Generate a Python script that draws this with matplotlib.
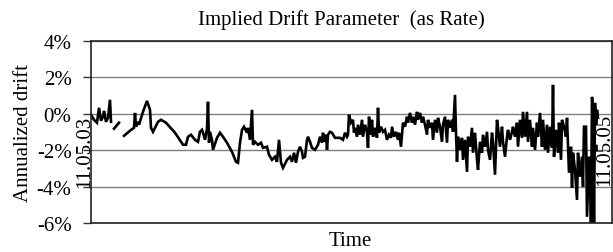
import numpy as np
import matplotlib
matplotlib.use("Agg")
import matplotlib.pyplot as plt

title = "Implied Drift Parameter  (as Rate)"
x_label = "Time"
y_label = "Annualized drift"
start_label = "11.05.03"
end_label = "11.05.05"
y_ticks = [-6, -4, -2, 0, 2, 4]
y_tick_labels = ["-6%", "-4%", "-2%", "0%", "2%", "4%"]

# time index (observation number) and implied drift in percent; NaN = gap
t = [0, 3, 6, 8, 10, 12, 13, 15, 17, 19, 20, 21,
     23, 28, 30,
     33, 39, 43, 44, 45, 47, 48, 52, 56, 59, 60, 62, 67, 70, 75, 84, 92, 95, 97,
     100, 104, 107, 109, 111, 112, 114, 116, 117, 118, 119, 121, 122, 126, 129,
     132, 136, 141, 145, 147, 149, 151, 153, 156, 157, 159, 161, 162, 164, 167,
     170, 172, 176, 178, 181, 184, 186, 188, 190, 192, 196, 199, 201, 203, 205,
     207, 209, 211, 212, 214, 216, 217, 219, 221, 224, 227, 229, 231, 232, 233,
     235, 236, 237, 239, 241, 244, 249, 252, 254, 256, 257, 258, 260, 262, 263,
     264, 266, 267, 269, 271, 272, 274, 276, 277, 278, 280, 281, 282, 284, 286,
     287, 288, 290, 292, 294, 296, 298, 300, 301, 303, 305, 307, 308, 310, 312,
     314, 316, 317, 319, 321, 322, 324, 326, 327, 329, 331, 332, 334, 336, 337,
     339, 341, 342, 344, 346, 347, 349, 351, 352, 354, 356, 357, 359, 361, 362,
     364, 365, 366, 367, 369, 371, 372, 374, 376, 377, 379, 381, 382, 384, 386,
     387, 389, 391, 392, 394, 396, 397, 399, 401, 402, 404, 406, 407, 409, 411,
     412, 414, 416, 417, 419, 421, 422, 424, 426, 427, 429, 431, 432, 434, 436,
     437, 439, 441, 442, 444, 446, 447, 449, 451, 452, 454, 456, 457, 459, 461,
     462, 463, 465, 467, 468, 470, 471, 473, 475, 476, 478, 480, 481, 482, 484,
     486, 487, 489, 491, 492, 493, 495, 496, 498, 499, 500, 501, 502, 503, 504,
     505, 506, 507]
drift = [-0.05, -0.33, -0.49, 0.33, -0.38, -0.16, 0.16, -0.44, -0.22, 0.77, -0.44, np.nan,
         -0.82, -0.49, np.nan,
         -1.21, -0.93, -0.77, 0.05, -0.71, -0.44, -0.60, 0.11, 0.71, 0.22, -0.77, -0.99, -0.44, -0.33, -0.49, -1.04, -1.70, -1.70, -1.26,
         -1.15, -1.43, -1.54, -0.99, -0.88, -1.04, -1.43, -0.82, 0.66, -1.59, -0.99, -1.43, -1.98, -1.32, -1.04,
         -1.26, -1.59, -2.09, -2.64, -2.69, -1.59, -0.88, -0.71, -1.04, -0.77, -1.43, 0.22, -1.70, -1.54, -1.70,
         -1.59, -1.87, -1.81, -2.25, -2.53, -2.36, -2.64, -1.43, -2.69, -2.97, -2.53, -2.36, -2.64, -2.14, -2.69,
         -2.09, -1.81, -2.09, -2.42, -2.36, -1.43, -1.26, -1.54, -1.87, -1.98, -1.70, -1.26, -1.59, -1.04, -1.54,
         -1.15, -1.98, -1.15, -0.99, -1.04, -1.32, -1.32, -1.43, -1.04, -1.26, -1.15, -0.05, -0.49, -0.33, -1.04,
         -0.77, -1.26, -0.60, -1.15, -0.33, -1.26, -0.60, -0.99, -1.87, -0.16, -1.15, -0.33, -1.26, -0.77, -1.32,
         0.33, -1.04, -0.71, -0.99, -0.88, -1.43, -1.15, -1.32, -0.71, -1.26, -0.99, -1.43, -1.04, -1.81, -0.49,
         -0.71, -0.16, -0.49, 0.05, -0.49, -0.16, -0.60, 0.11, -0.33, 0.05, -0.49, -0.16, -0.60, -1.15, -0.33,
         -0.77, -0.49, -1.43, -0.33, -1.04, -0.22, -0.71, -1.54, -0.60, -0.16, -1.59, -0.33, -0.77, -0.33, -0.99,
         1.04, -1.04, -2.64, -1.26, -1.98, -1.32, -2.53, -1.43, -3.19, -1.26, -1.81, -0.77, -2.14, -1.04, -2.53,
         -3.08, -1.54, -2.14, -1.15, -1.81, -0.99, -1.98, -2.53, -1.04, -1.54, -3.35, -0.33, -0.77, -1.81, -0.71,
         -1.54, -2.36, -1.26, -0.88, -1.43, -0.99, -0.71, -1.26, -0.49, -1.81, -0.33, -1.32, 0.11, -1.26, 0.11,
         -1.54, -0.33, -1.81, -0.77, -1.98, -0.49, -1.26, 0.05, -1.81, -0.33, -1.98, -0.60, -2.14, -0.71, -1.87,
         1.59, -2.36, -0.88, -2.14, -0.49, -2.53, -0.33, -0.71, -1.26, -0.22, -3.24, -1.81, -4.07, -2.14, -3.08,
         -4.73, -2.14, -3.46, -2.36, -4.01, -0.71, -0.71, -5.66, -2.36, -3.08, -6.30, 0.93, 0.22, -6.30, 0.60,
         -0.49, 0.22, -0.22]

serif = ["Liberation Serif", "DejaVu Serif"]
fs = 15

fig = plt.figure(figsize=(6.13, 2.53), dpi=100)
fig.patch.set_facecolor("white")
ax = fig.add_axes([91 / 613, 1 - 224 / 253, (612 - 91) / 613, (224 - 42) / 253])

ax.plot(t, drift, color="black", lw=1.9, solid_joinstyle="miter")
ax.set_xlim(0, 521)
ax.set_ylim(-6, 4)
ax.set_yticks(y_ticks)
ax.set_yticklabels(y_tick_labels, fontfamily=serif, fontsize=fs)
ax.set_xticks([])
ax.tick_params(axis="y", direction="out", length=6, width=1, color="#333333", pad=8)
ax.grid(axis="y", color="#7f7f7f", lw=1)
ax.set_axisbelow(True)
for side in ["left", "bottom", "top", "right"]:
    ax.spines[side].set_color("#222222")
    ax.spines[side].set_linewidth(1.2)

fig.text(341 / 613, 1 - 20 / 253, title, ha="center", va="center", fontfamily=serif, fontsize=fs)
fig.text(350 / 613, 1 - 242 / 253, x_label, ha="center", va="center", fontfamily=serif, fontsize=fs)
fig.text(24 / 613, 1 - 133 / 253, y_label, ha="center", va="center", rotation=90, fontfamily=serif, fontsize=fs)
fig.text(85 / 613, 1 - 152 / 253, start_label, ha="center", va="center", rotation=90, fontfamily=serif, fontsize=fs)
fig.text(605 / 613, 1 - 150 / 253, end_label, ha="center", va="center", rotation=90, fontfamily=serif, fontsize=fs)

fig.savefig("out.png", dpi=100, facecolor="white")
